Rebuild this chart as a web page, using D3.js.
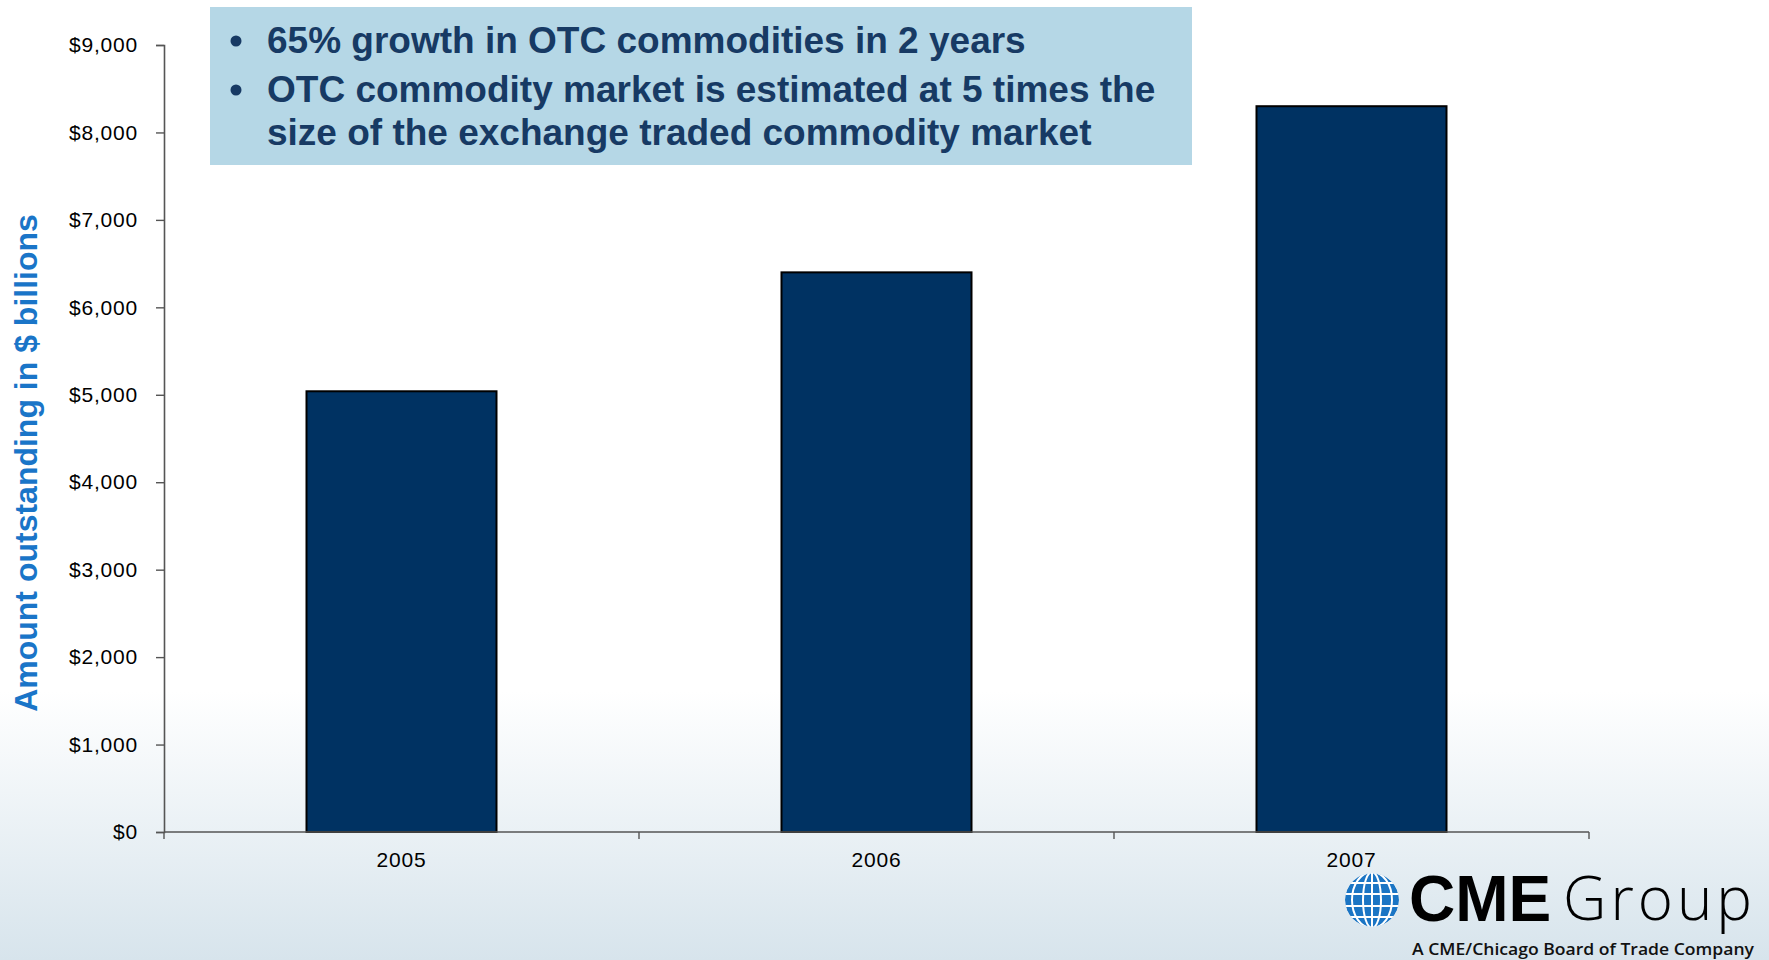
<!DOCTYPE html>
<html>
<head>
<meta charset="utf-8">
<script src="https://cdn.jsdelivr.net/npm/d3@7"></script>
<style>
  body { margin: 0; background: #fff; }
  svg text { font-family: "Liberation Sans", Arial, sans-serif; }
</style>
</head>
<body>
<div id="chart"></div>
<script>
// Data
let years = ["2005", "2006", "2007"];
let amounts = [5040, 6400, 8300];
let yTicks = [0, 1000, 2000, 3000, 4000, 5000, 6000, 7000, 8000, 9000];
let bullets = [
  ["65% growth in OTC commodities in 2 years"],
  ["OTC commodity market is estimated at 5 times the", "size of the exchange traded commodity market"]
];

let W = 1769, H = 960;
let margin = { top: 45, right: 180, bottom: 128, left: 164 },
  width = W - margin.left - margin.right,
  height = H - margin.top - margin.bottom;

let root = d3.select("#chart")
  .append("svg")
  .attr("width", W)
  .attr("height", H);

// background fade at the bottom
let defs = root.append("defs");
let grad = defs.append("linearGradient")
  .attr("id", "bg").attr("x1", 0).attr("y1", 0).attr("x2", 0).attr("y2", 1);
grad.append("stop").attr("offset", "0%").attr("stop-color", "#ffffff");
grad.append("stop").attr("offset", "72%").attr("stop-color", "#ffffff");
grad.append("stop").attr("offset", "100%").attr("stop-color", "#d7e4ec");
root.append("rect").attr("width", W).attr("height", H).attr("fill", "url(#bg)");

let svg = root.append("g")
  .attr("transform", "translate(" + margin.left + "," + margin.top + ")");

// Scales
let x = d3.scaleBand()
  .domain(years)
  .range([0, width])
  .paddingInner(0.6)
  .paddingOuter(0.3);
let y = d3.scaleLinear()
  .domain([0, 9000])
  .range([height, 0]);

// bars
svg.append("g")
  .selectAll("rect")
  .data(amounts)
  .join("rect")
  .attr("x", (d, i) => x(years[i]))
  .attr("y", (d) => y(d))
  .attr("width", x.bandwidth())
  .attr("height", (d) => height - y(d))
  .attr("fill", "#003262")
  .attr("stroke", "#000")
  .attr("stroke-width", 2);

// y-axis
let yAxis = d3.axisLeft(y)
  .tickValues(yTicks)
  .tickSize(8)
  .tickPadding(18)
  .tickFormat((d) => "$" + d3.format(",")(d));
let yAxisEl = svg.append("g").attr("class", "y axis").call(yAxis);
yAxisEl.select(".domain").attr("stroke", "#555").attr("stroke-width", 1.6);
yAxisEl.selectAll(".tick line").attr("stroke", "#555").attr("stroke-width", 1.4);
yAxisEl.selectAll(".tick text")
  .attr("fill", "#000")
  .style("font-size", "21px")
  .style("letter-spacing", "0.8px");

// x-axis, ticks sit on the band boundaries
let xAxisEl = svg.append("g")
  .attr("class", "x axis")
  .attr("transform", "translate(0," + height + ")");
xAxisEl.append("line")
  .attr("x1", 0).attr("x2", width)
  .attr("stroke", "#555").attr("stroke-width", 1.6);
let step = x.step();
xAxisEl.selectAll(".xtick")
  .data(d3.range(years.length + 1))
  .join("line")
  .attr("class", "xtick")
  .attr("x1", (d) => d * step).attr("x2", (d) => d * step)
  .attr("y1", 0).attr("y2", 7)
  .attr("stroke", "#555").attr("stroke-width", 1.4);
xAxisEl.selectAll(".xlabel")
  .data(years)
  .join("text")
  .attr("class", "xlabel")
  .attr("x", (d) => x(d) + x.bandwidth() / 2)
  .attr("y", 35)
  .attr("text-anchor", "middle")
  .style("font-size", "21px")
  .style("letter-spacing", "0.8px")
  .attr("fill", "#000")
  .text((d) => d);

// y-axis title
root.append("text")
  .attr("transform", "translate(37,463) rotate(-90)")
  .attr("text-anchor", "middle")
  .style("font-size", "32px")
  .style("font-weight", "bold")
  .attr("fill", "#1a75c8")
  .text("Amount outstanding in $ billions");

// call-out box
let box = root.append("g");
box.append("rect")
  .attr("x", 210).attr("y", 7)
  .attr("width", 982).attr("height", 158)
  .attr("fill", "#b5d7e6");
let lineY = [[53], [102, 145]];
bullets.forEach(function (lines, i) {
  box.append("circle")
    .attr("cx", 236).attr("cy", lineY[i][0] - 12)
    .attr("r", 5.5)
    .attr("fill", "#173a64");
  lines.forEach(function (t, j) {
    box.append("text")
      .attr("x", 267).attr("y", lineY[i][j])
      .style("font-size", "37px")
      .style("font-weight", "bold")
      .attr("fill", "#173a64")
      .text(t);
  });
});

// logo
let logo = root.append("g").attr("transform", "translate(1372,900)");
let clip = defs.append("clipPath").attr("id", "globe");
clip.append("circle").attr("r", 27);
let globe = logo.append("g").attr("clip-path", "url(#globe)");
globe.append("circle").attr("r", 27).attr("fill", "#1b75c4");
[-17, -6, 6, 17].forEach(function (v) {
  globe.append("line").attr("x1", -30).attr("x2", 30).attr("y1", v).attr("y2", v)
    .attr("stroke", "#fff").attr("stroke-width", 2);
});
globe.append("line").attr("x1", 0).attr("x2", 0).attr("y1", -30).attr("y2", 30)
  .attr("stroke", "#fff").attr("stroke-width", 2);
[9, 20].forEach(function (rx) {
  globe.append("ellipse").attr("rx", rx).attr("ry", 28)
    .attr("fill", "none").attr("stroke", "#fff").attr("stroke-width", 2);
});
root.append("text")
  .attr("x", 1409).attr("y", 921)
  .style("font-size", "64px").style("font-weight", "bold")
  .attr("fill", "#000")
  .text("CME");
root.append("text")
  .attr("x", 1563).attr("y", 920)
  .style("font-size", "60px").style("font-weight", "300")
  .style("font-family", "'Open Sans', Lato, sans-serif")
  .style("letter-spacing", "4px")
  .attr("fill", "#000")
  .text("Group");
root.append("text")
  .attr("x", 1412).attr("y", 955)
  .attr("textLength", 342)
  .attr("lengthAdjust", "spacingAndGlyphs")
  .style("font-size", "17px").style("font-weight", "600")
  .style("font-family", "'Open Sans', sans-serif")
  .attr("fill", "#111")
  .text("A CME/Chicago Board of Trade Company");
</script>
</body>
</html>
